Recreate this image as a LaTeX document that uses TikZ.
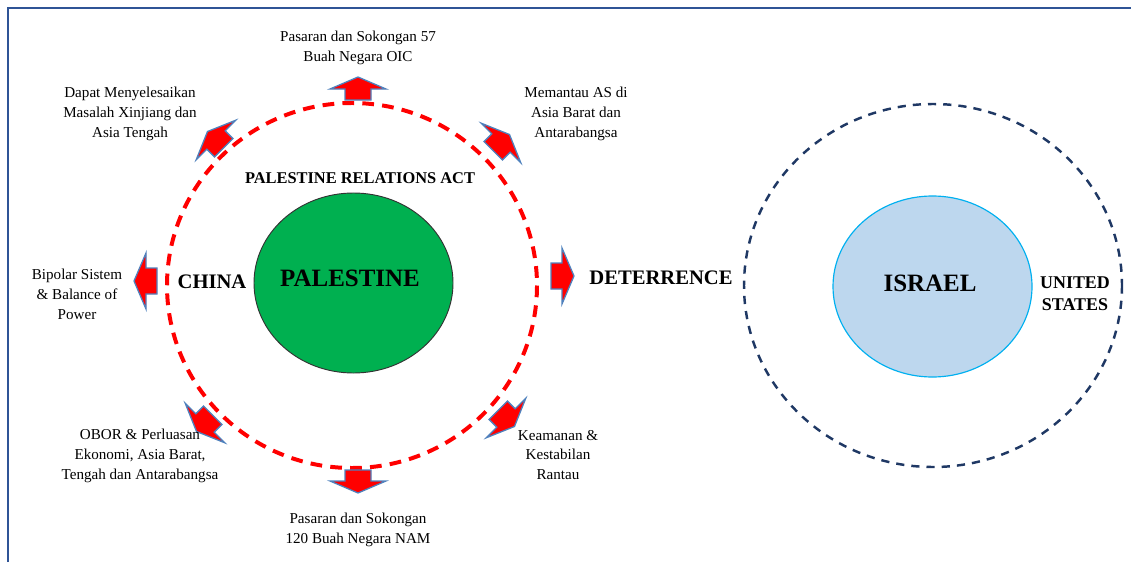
\documentclass[tikz,border=0pt]{standalone}
\usepackage{fontspec}
\setmainfont{Liberation Serif}
\usetikzlibrary{shapes.geometric}

\definecolor{framecol}{RGB}{47,84,150}
\definecolor{arrowedge}{RGB}{79,129,189}
\definecolor{navydash}{RGB}{31,56,100}
\definecolor{palgreen}{RGB}{0,176,80}
\definecolor{isrfill}{RGB}{189,215,238}
\definecolor{isredge}{RGB}{0,176,240}

\tikzset{
  lbl/.style={align=center, font=\fontsize{12.9}{17}\selectfont},
  bigword/.style={font=\bfseries\fontsize{17.6}{19}\selectfont},
  arrowbox/.style={fill=red, draw=arrowedge, line width=1.1pt, line join=miter},
}

\newcommand{\blockarrow}[2]{%
  \begin{scope}[shift={#1}, rotate=#2]
    \draw [arrowbox] (-11,-13) -- (0,-13) -- (0,-28) -- (12,0) -- (0,28) -- (0,13) -- (-11,13) -- cycle;
  \end{scope}}

\begin{document}
\begin{tikzpicture}[x=0.03cm, y=-0.03cm]
    \useasboundingbox (0,0) rectangle (1131,562);

    \draw [framecol, line width=1.2pt] (8,562) -- (8,8) -- (1131,8);

    \draw [red, line width=3.4pt, dash pattern=on 10pt off 7pt] (352,285.5) ellipse [x radius=185, y radius=182.5];
    \draw [navydash, line width=2.1pt, dash pattern=on 7pt off 6pt] (933,285.5) ellipse [x radius=189, y radius=181.5];

    \node [ellipse, draw=black!80, line width=0.8pt, fill=palgreen, minimum width=5.97cm, minimum height=5.4cm, inner sep=0pt] (palestine) at (353.5,283) {};
    \node [font=\bfseries\fontsize{21.3}{23}\selectfont] (palname) at (350,278) {PALESTINE};
    \node [font=\bfseries\fontsize{14}{16}\selectfont] (relact) at (360,178) {PALESTINE RELATIONS ACT};

    \node [ellipse, draw=isredge, line width=1pt, fill=isrfill, minimum width=5.97cm, minimum height=5.43cm, inner sep=0pt] (israel) at (932.5,286.5) {};
    \node [font=\bfseries\fontsize{21.3}{23}\selectfont] (isrname) at (930,283) {ISRAEL};
    \node [align=center, font=\bfseries\fontsize{15.3}{18.7}\selectfont] (us) at (1075,294) {UNITED\\STATES};

    \node [bigword] (china) at (212,282) {CHINA};
    \node [bigword] (deter) at (661,278) {DETERRENCE};

    \blockarrow{(358,89)}{90}
    \blockarrow{(501,143)}{45}
    \blockarrow{(562,276)}{0}
    \blockarrow{(506,418)}{-45}
    \blockarrow{(358,481)}{-90}
    \blockarrow{(205,423)}{-135}
    \blockarrow{(146,281)}{180}
    \blockarrow{(216,140)}{135}

    \node [lbl] (oic) at (358,48) {Pasaran dan Sokongan 57\\Buah Negara OIC};
    \node [lbl] (xinjiang) at (130,114) {Dapat Menyelesaikan\\Masalah Xinjiang dan\\Asia Tengah};
    \node [lbl] (memantau) at (576,114) {Memantau AS di\\Asia Barat dan\\Antarabangsa};
    \node [lbl] (bipolar) at (77,294) {Bipolar Sistem\\\& Balance of\\Power};
    \node [lbl] (keamanan) at (558,455) {Keamanan \&\\Kestabilan\\Rantau};
    \node [lbl] (obor) at (140,456) {OBOR \& Perluasan\\Ekonomi, Asia Barat,\\Tengah dan Antarabangsa};
    \node [lbl] (nam) at (358,530) {Pasaran dan Sokongan\\120 Buah Negara NAM};
\end{tikzpicture}
\end{document}
